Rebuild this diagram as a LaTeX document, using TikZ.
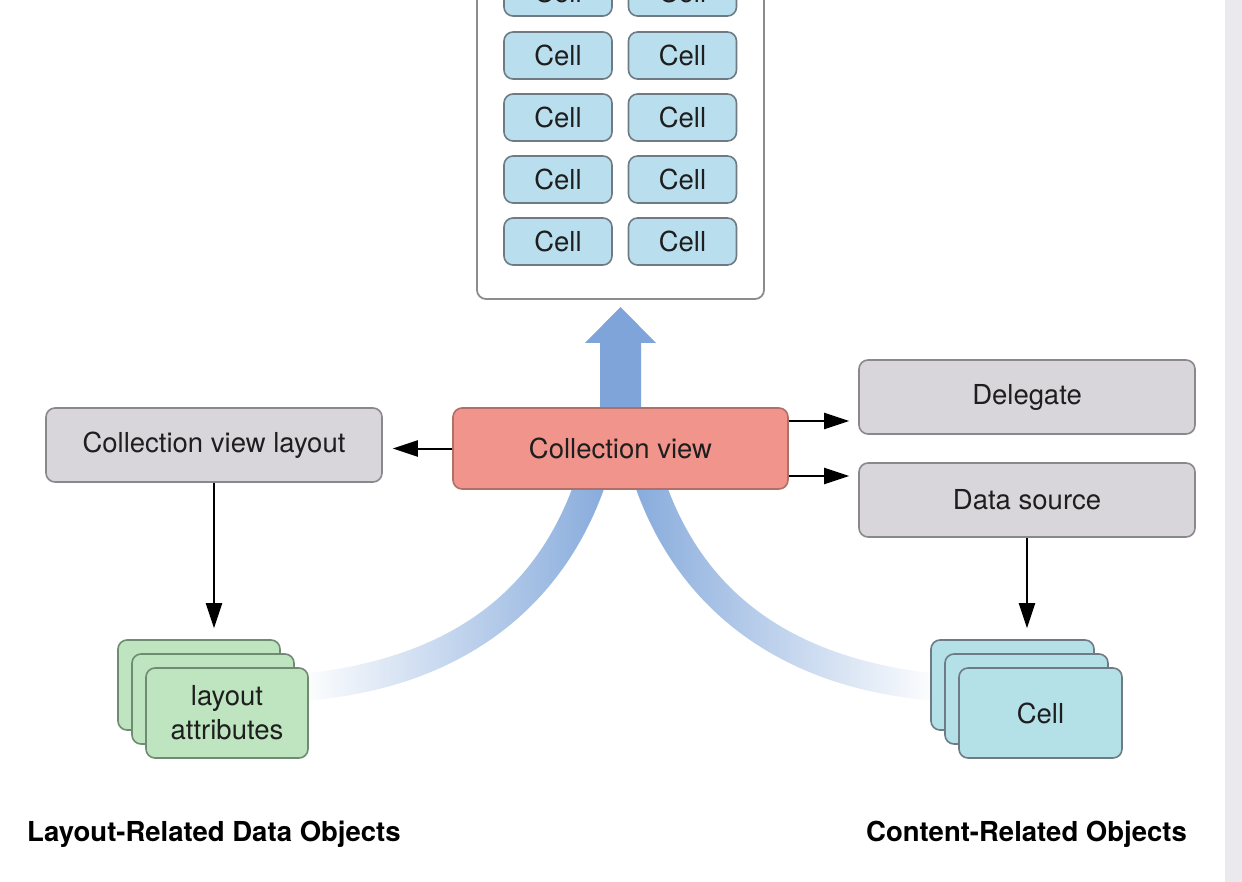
\documentclass[tikz,border=0pt]{standalone}
\usepackage{fontspec}
\setmainfont{TeX Gyre Heros}
\usetikzlibrary{arrows.meta}
\definecolor{cellblue}{HTML}{B9DFEE}
\definecolor{stackblue}{HTML}{B4E0E8}
\definecolor{cellline}{HTML}{6E7B84}
\definecolor{boxgray}{HTML}{D8D6DB}
\definecolor{boxline}{HTML}{8A888D}
\definecolor{cvred}{HTML}{F0948C}
\definecolor{cvline}{HTML}{B0706A}
\definecolor{attrgreen}{HTML}{BEE4C0}
\definecolor{greenline}{HTML}{6F8C73}
\definecolor{contline}{HTML}{8C8C8C}
\definecolor{bandblue}{HTML}{84A9DB}
\definecolor{shaftblue}{HTML}{7EA4D9}
\definecolor{textdark}{HTML}{1E1E1E}
\definecolor{stripgray}{HTML}{EAE9EE}
\begin{document}
\begin{tikzpicture}[x=1pt,y=-1pt,
  rbox/.style={rectangle, rounded corners=9pt, line width=1.6pt,
    font=\fontsize{27.5}{34}\selectfont, text=textdark, inner sep=0pt, align=center},
  cellbox/.style={rbox, fill=cellblue, draw=cellline, minimum width=108pt, minimum height=47pt},
  graybox/.style={rbox, fill=boxgray, draw=boxline, minimum width=336pt, minimum height=74pt},
  cvbox/.style={rbox, fill=cvred, draw=cvline, minimum width=335pt, minimum height=81pt},
  greencard/.style={rbox, fill=attrgreen, draw=greenline, minimum width=162pt, minimum height=90pt},
  stackcell/.style={rbox, fill=stackblue, draw=cellline, minimum width=163pt, minimum height=90pt},
  container/.style={rectangle, rounded corners=9pt, line width=1.8pt, draw=contline, fill=white,
    minimum width=287pt, minimum height=330pt, inner sep=0pt},
  arr/.style={-{Triangle[length=25pt,width=16pt]}, line width=2pt, draw=black},
  caption/.style={font=\bfseries\fontsize{27.5}{34}\selectfont, text=black, inner sep=0pt}
]
\useasboundingbox (0,0) rectangle (1242,882);
\clip (0,0) rectangle (1242,882);
\fill[white] (0,0) rectangle (1242,882);
\fill[stripgray] (1225,0) rectangle (1242,882);

% container with cells
\node[container] (cont) at (620.5,134) {};
\foreach \r/\y in {0/-7.5,1/55.5,2/117.5,3/179.5,4/241.5}{
  \node[cellbox] (cA\r) at (558,\y) {Cell};
  \node[cellbox] (cB\r) at (682.5,\y) {Cell};
}

% curved bands
\shade[left color=white, right color=bandblue]
  (300,674) .. controls (440,660) and (530,600) .. (572,489) -- (590,415) -- (615,415)
  -- (604,489) .. controls (555,625) and (440,692) .. (300,701) -- cycle;
\shade[left color=bandblue, right color=white]
  (940,674) .. controls (800,660) and (710,600) .. (668,489) -- (650,415) -- (625,415)
  -- (636,489) .. controls (685,625) and (800,692) .. (940,701) -- cycle;

% upward arrow
\fill[shaftblue] (600,425) -- (600,343) -- (585,343) -- (620.5,307) -- (656,343)
  -- (641,343) -- (641,425) -- cycle;

% main nodes
\node[cvbox] (cv) at (620.5,448.5) {Collection view};
\node[graybox] (layout) at (214,445) {Collection view layout};
\node[graybox] (delegate) at (1027,397) {Delegate};
\node[graybox] (datasource) at (1027,500) {Data source};

% stacks
\node[greencard] (lback) at (199,685) {};
\node[greencard] (lmid) at (213,699) {};
\node[greencard] (lfront) at (227,713) {layout\\attributes};
\node[stackcell] (rback) at (1012.5,685) {};
\node[stackcell] (rmid) at (1026.5,699) {};
\node[stackcell] (rfront) at (1040.5,713) {Cell};

% connectors
\draw[arr, shorten >=10pt] (cv.west) -- (cv.west -| layout.east);
\draw[arr, shorten >=9pt] ([yshift=27.5pt]cv.east) -- ([yshift=27.5pt]cv.east -| delegate.west);
\draw[arr, shorten >=9pt] ([yshift=-27.5pt]cv.east) -- ([yshift=-27.5pt]cv.east -| datasource.west);
\draw[arr, shorten >=11pt] (layout.south) -- (layout.south |- lback.north);
\draw[arr, shorten >=11pt] (datasource.south) -- (datasource.south |- rback.north);

% captions
\node[caption, anchor=west] (lcap) at (27,834) {Layout-Related Data Objects};
\node[caption, anchor=east] (rcap) at (1187,834) {Content-Related Objects};
\end{tikzpicture}
\end{document}
